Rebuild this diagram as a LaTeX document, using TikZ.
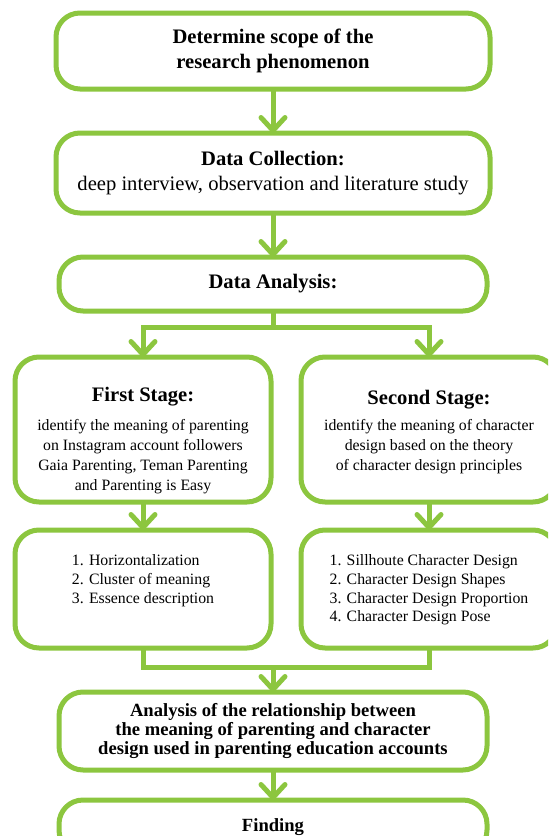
\documentclass[tikz,border=0pt]{standalone}
\usepackage{fontspec}
\setmainfont{Liberation Serif}
\usepackage{tikz}
\usetikzlibrary{arrows.meta, positioning}

\definecolor{leafgreen}{RGB}{140,198,63}
\newcommand{\headsize}{\fontsize{10.3}{12.8}\selectfont}
\newcommand{\relsize}{\fontsize{9.3}{9.6}\selectfont}
\newcommand{\textsize}{\fontsize{7.9}{10}\selectfont}
\newcommand{\itemsize}{\fontsize{7.9}{9.3}\selectfont}

\begin{document}
\begin{tikzpicture}[
    >={Straight Barb[length=6.5pt,width=12pt,round]},
    box/.style={
        rectangle, rounded corners=12pt, draw=leafgreen, line width=2.5pt,
        outer sep=0pt, inner sep=0pt, align=center, fill=white
    },
    mainbox/.style={box, minimum width=217pt, font=\headsize},
    smallbox/.style={box, minimum width=214pt, minimum height=27pt},
    stagebox/.style={box, minimum width=128pt, minimum height=72.5pt},
    listbox/.style={box, minimum width=128pt, minimum height=59pt},
    headtext/.style={inner sep=0pt, font=\headsize\bfseries},
    bodytext/.style={inner sep=0pt, align=center, font=\textsize},
    listtext/.style={inner sep=0pt, align=left, font=\itemsize},
    arrow/.style={->, line width=2.5pt, leafgreen},
    line/.style={line width=2.5pt, leafgreen},
]
\useasboundingbox (0,0) rectangle (274pt,-418pt);
\clip (0,0) rectangle (274pt,-418pt);

% Main column
\node[mainbox, minimum height=38pt, font=\headsize\bfseries] (scope) at (136.5pt,-25.5pt) {Determine scope of the\\research phenomenon};
\node[mainbox, minimum height=40pt, below=22pt of scope] (collect) {\textbf{Data Collection:}\\deep interview, observation and literature study};
\node[smallbox, font=\headsize\bfseries, below=22pt of collect] (analysis) {Data Analysis:};

% First stage
\node[stagebox, below=23pt of analysis, xshift=-65pt] (first) {};
\node[headtext, below=22pt of first.north, anchor=base] (firsthead) {First Stage:};
\node[bodytext, below=31pt of first.north] (firstbody) {identify the meaning of parenting\\on Instagram account followers\\Gaia Parenting, Teman Parenting\\and Parenting is Easy};
\node[listbox, below=14pt of first] (firstlist) {};
\node[listtext, below=12.3pt of firstlist.north] (firstitems) {1. Horizontalization\\2. Cluster of meaning\\3. Essence description};

% Second stage
\node[stagebox, below=23pt of analysis, xshift=78pt] (second) {};
\node[headtext, below=23.5pt of second.north, anchor=base] (secondhead) {Second Stage:};
\node[bodytext, below=31pt of second.north] (secondbody) {identify the meaning of character\\design based on the theory\\of character design principles};
\node[listbox, below=14pt of second] (secondlist) {};
\node[listtext, below=12.3pt of secondlist.north] (seconditems) {1. Sillhoute Character Design\\2. Character Design Shapes\\3. Character Design Proportion\\4. Character Design Pose};

% Closing steps
\node[smallbox, minimum height=39pt, font=\relsize\bfseries, below=22pt of firstlist, xshift=65pt] (relation) {Analysis of the relationship between\\the meaning of parenting and character\\design used in parenting education accounts};
\node[smallbox, font=\relsize\bfseries, below=15pt of relation] (finding) {Finding};

% Arrows
\draw[arrow] (scope) -- (collect);
\draw[arrow] (collect) -- (analysis);
\draw[line] (analysis.south) -- ++(0,-8pt) coordinate (split);
\draw[arrow] (split) -| (first.north);
\draw[arrow] (split) -| (second.north);
\draw[arrow] (first) -- (firstlist);
\draw[arrow] (second) -- (secondlist);
\draw[line] (firstlist.south) -- ++(0,-9.5pt) coordinate (merge) -| (secondlist.south);
\draw[arrow] (merge -| relation.north) -- (relation.north);
\draw[arrow] (relation) -- (finding);

\end{tikzpicture}
\end{document}
